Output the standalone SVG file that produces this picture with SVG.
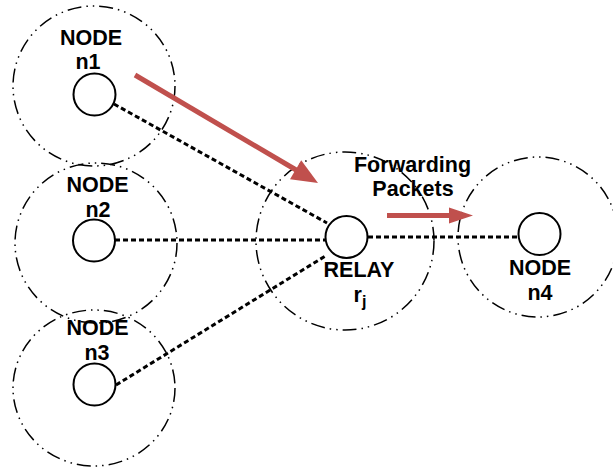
<svg xmlns="http://www.w3.org/2000/svg" width="613" height="472" viewBox="0 0 613 472">
  <style>
    .range { fill: none; stroke: #000; stroke-width: 1.5; stroke-dasharray: 14 5 1.5 5 1.5 5; }
    .dev { fill: #fff; stroke: #000; stroke-width: 2; }
    .lbl { font-family: "Liberation Sans", Arial, sans-serif; font-weight: bold; font-size: 21.5px; fill: #000; text-anchor: middle; }
    .link { fill: none; stroke: #000; stroke-width: 3; stroke-dasharray: 5 3; }
    .flow { fill: none; stroke: #c0504d; stroke-width: 5; }
    .head { fill: #c0504d; }
  </style>
  <rect width="613" height="472" fill="#fff"/>

  <!-- transmission ranges -->
  <g id="ranges">
    <ellipse class="range" cx="94" cy="86" rx="81" ry="80"/>
    <ellipse class="range" cx="96" cy="243" rx="81" ry="80"/>
    <ellipse class="range" cx="94" cy="388" rx="81" ry="78"/>
    <circle class="range" cx="345" cy="241" r="89"/>
    <circle class="range" cx="538" cy="237" r="80"/>
  </g>

  <!-- links to the relay and forwarding arrows -->
  <g id="connectors">
    <line class="link" x1="114" y1="104" x2="327" y2="223"/>
    <line class="link" x1="115" y1="240" x2="325" y2="240"/>
    <line class="link" x1="116" y1="385" x2="327" y2="255"/>
    <line class="link" x1="368" y1="237" x2="517" y2="237"/>
    <line class="flow" x1="135" y1="75" x2="297" y2="170.5"/>
    <polygon class="head" points="318,183 290,179.3 301.2,160.3"/>
    <line class="flow" x1="387" y1="215.5" x2="450" y2="215.5"/>
    <polygon class="head" points="473,215.5 449,207.5 449,223.5"/>
  </g>

  <g id="n1">
    <circle class="dev" cx="94.5" cy="94.5" r="21"/>
    <text class="lbl" x="91" y="45">NODE</text>
    <text class="lbl" x="88" y="69">n1</text>
  </g>
  <g id="n2">
    <circle class="dev" cx="94" cy="240.5" r="21"/>
    <text class="lbl" x="97.5" y="192">NODE</text>
    <text class="lbl" x="98" y="217">n2</text>
  </g>
  <g id="n3">
    <circle class="dev" cx="94.5" cy="384.5" r="21"/>
    <text class="lbl" x="97.5" y="335">NODE</text>
    <text class="lbl" x="97" y="360">n3</text>
  </g>
  <g id="relay">
    <circle class="dev" cx="346.5" cy="237" r="21"/>
    <text class="lbl" x="359" y="277">RELAY</text>
    <text class="lbl" x="360" y="302">r<tspan font-size="16" dy="5">j</tspan></text>
  </g>
  <g id="n4">
    <circle class="dev" cx="539.5" cy="234" r="21"/>
    <text class="lbl" x="540" y="275">NODE</text>
    <text class="lbl" x="540" y="300">n4</text>
  </g>
  <g id="caption">
    <text class="lbl" x="412.5" y="172">Forwarding</text>
    <text class="lbl" x="413" y="196">Packets</text>
  </g>
</svg>
